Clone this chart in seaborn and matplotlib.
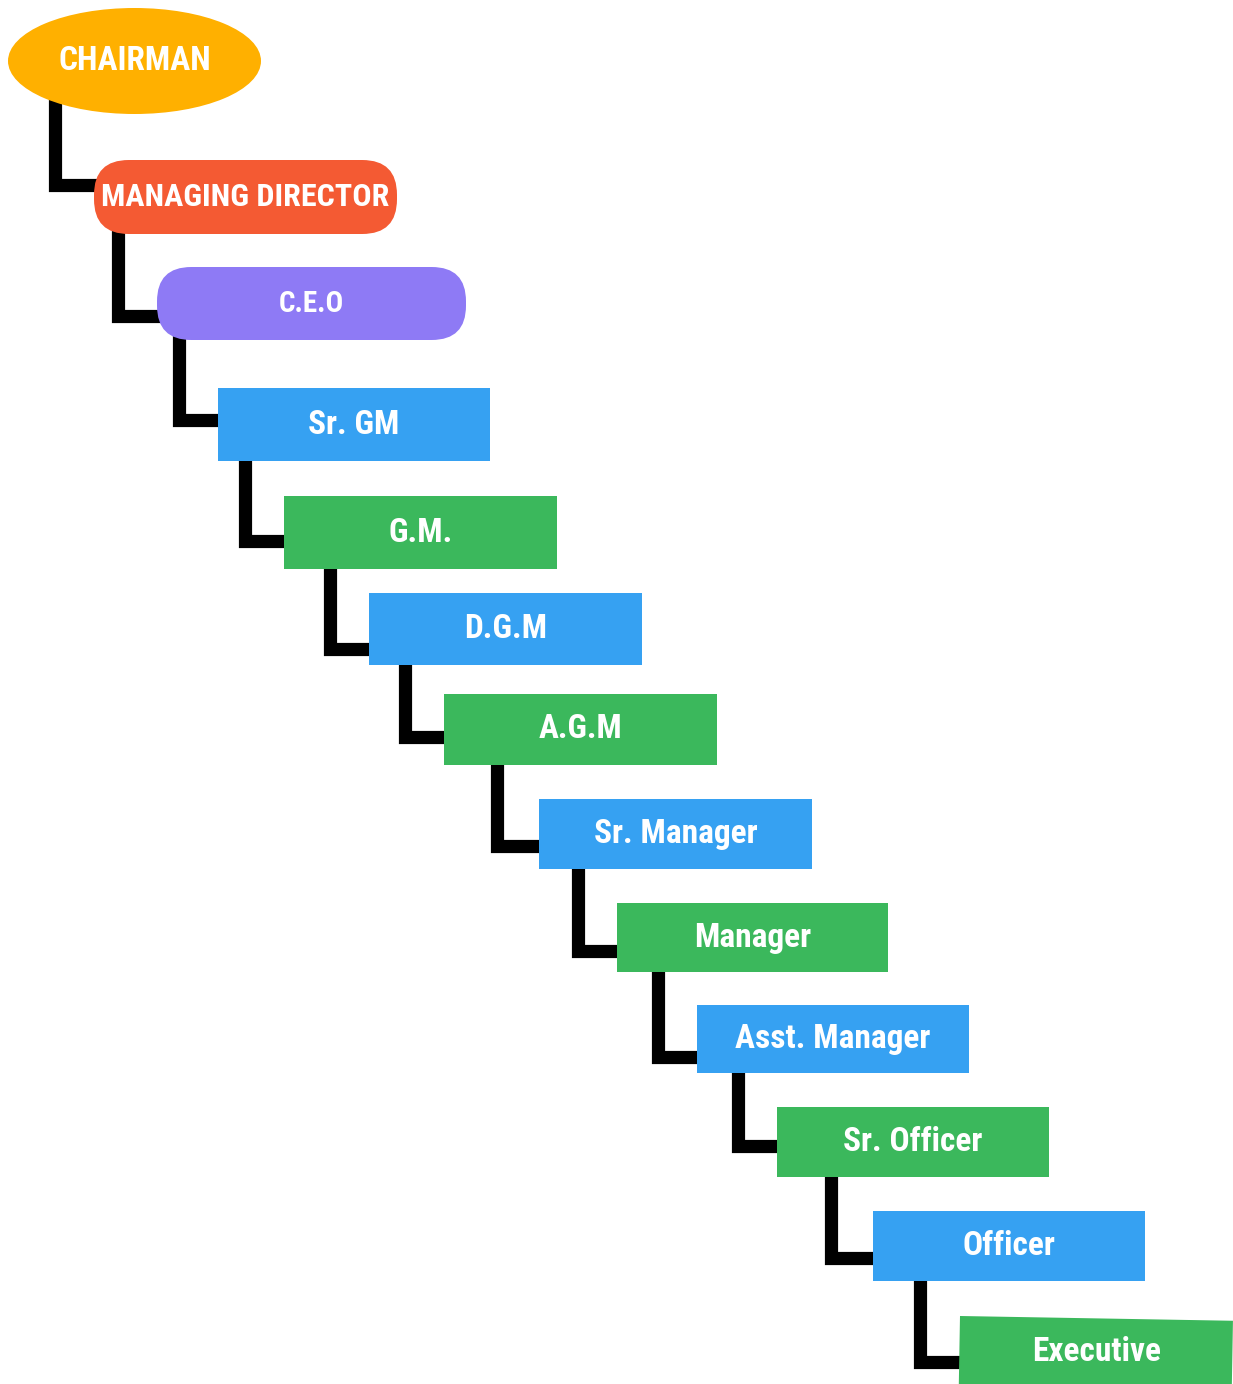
import pandas as pd
import seaborn as sns
import matplotlib.pyplot as plt
from matplotlib import font_manager
from matplotlib.patches import Ellipse, FancyBboxPatch, Rectangle

# hierarchy, top to bottom
titles = ["CHAIRMAN", "MANAGING DIRECTOR", "C.E.O", "Sr. GM", "G.M.", "D.G.M",
          "A.G.M", "Sr. Manager", "Manager", "Asst. Manager", "Sr. Officer",
          "Officer", "Executive"]
shapes = ["ellipse", "pill", "pill"] + ["rect"] * 10
colors = ["#FFB000", "#F45A33", "#8E7AF5"] + ["#36A1F2", "#3BB85C"] * 5

# layout (pixels): box edges and elbow of each connector
box_left = [8, 94, 157, 218, 284, 369, 444, 539, 617, 697, 777, 873, 960]
box_right = [261, 397, 466, 490, 557, 642, 717, 812, 888, 969, 1049, 1145, 1233]
box_top = [8, 160, 267, 388, 496, 593, 694, 799, 903, 1005, 1107, 1211, 1316]
box_bottom = [114, 234, 340, 461, 569, 665, 765, 869, 972, 1073, 1177, 1281, 1390]
elbow_x = [55, 118, 179, 245, 330, 405, 497, 578, 658, 738, 831, 920]
elbow_y = [185, 316, 420, 541, 649, 737, 846, 951, 1057, 1146, 1258, 1362]
font_sizes = [24, 23, 21] + [24] * 10
# approximate rendered label widths in the reference (px)
label_w = [147, 289, 70, 85, 60, 78, 78, 155, 115, 187, 132, 92, 130]

W, H = 1233, 1384

sns.set_style("white")

# pick a narrow bold face if one is installed
fonts = font_manager.fontManager.ttflist
family, stretch = "Roboto", "normal"
for name in ["Liberation Sans Narrow", "Roboto Condensed", "Open Sans Condensed",
             "DejaVu Sans", "Noto Sans", "Roboto", "Open Sans"]:
    hit = [f for f in fonts if f.name == name and
           (("Narrow" in name or "Condensed" in name) or
            str(f.stretch) in ("condensed", "semi-condensed", "extra-condensed",
                               "ultra-condensed", "75", "87", "62", "50"))]
    if hit:
        family, stretch = name, hit[0].stretch
        break
plt.rcParams["font.family"] = [family, "DejaVu Sans"]

fig = plt.figure(figsize=(W / 100, H / 100), dpi=100)
ax = fig.add_axes([0, 0, 1, 1])

# connectors as black elbows: parent centre -> down -> right into child
rows = []
for i in range(len(titles) - 1):
    py = (box_top[i] + box_bottom[i]) / 2
    cx = (box_left[i + 1] + box_right[i + 1]) / 2
    rows.append({"link": i, "x": elbow_x[i], "y": py})
    rows.append({"link": i, "x": elbow_x[i], "y": elbow_y[i]})
    rows.append({"link": i, "x": cx, "y": elbow_y[i]})
links = pd.DataFrame(rows)
sns.lineplot(data=links, x="x", y="y", units="link", estimator=None, sort=False,
             color="black", linewidth=9.5, legend=False, ax=ax,
             solid_joinstyle="miter", solid_capstyle="butt", zorder=1)

renderer = fig.canvas.get_renderer()
for i, t in enumerate(titles):
    x0, x1 = box_left[i], box_right[i]
    y0, y1 = box_top[i], box_bottom[i]
    w, h = x1 - x0, y1 - y0
    if shapes[i] == "ellipse":
        p = Ellipse(((x0 + x1) / 2, (y0 + y1) / 2), w, h, color=colors[i], lw=0)
    elif shapes[i] == "pill":
        r = h * 0.47
        p = FancyBboxPatch((x0 + r, y0 + r), w - 2 * r, h - 2 * r,
                           boxstyle=f"round,pad={r},rounding_size={r}",
                           color=colors[i], lw=0)
    else:
        p = Rectangle((x0, y0), w, h, color=colors[i], lw=0)
        if t == "Executive":
            p.set_angle(1.0)
    p.set_zorder(2)
    ax.add_patch(p)
    ty = (y0 + min(y1, H + 4)) / 2 if t == "Executive" else (y0 + y1) / 2
    txt = ax.text((x0 + x1) / 2, ty, t, color="white", fontsize=font_sizes[i],
                  fontweight="bold", fontstretch=stretch,
                  ha="center", va="center", zorder=3)
    tw = txt.get_window_extent(renderer).width
    if tw > label_w[i] * 1.08:
        txt.set_fontsize(font_sizes[i] * label_w[i] * 1.08 / tw)

ax.set_xlim(0, W)
ax.set_ylim(H, 0)
ax.axis("off")

fig.savefig("out.png", dpi=100, facecolor="white")
